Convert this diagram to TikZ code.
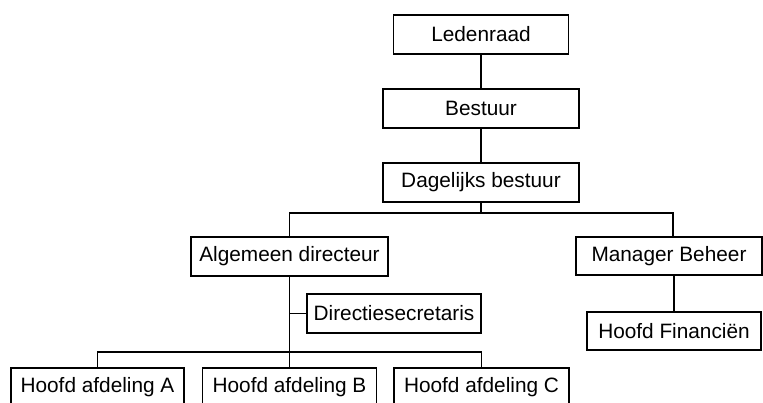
\documentclass[tikz,border=0pt]{standalone}
\usepackage{fontspec}
\setmainfont{Liberation Sans}
\begin{document}
\begin{tikzpicture}[x=1pt,y=-1pt,
  orgbox/.style={draw, line width=1.4pt, inner sep=0pt, minimum height=39pt,
    font=\fontsize{20.8}{24}\selectfont},
  conn/.style={line width=1.4pt}]
\useasboundingbox[fill=white] (0,0) rectangle (763,403);
\begin{scope}
\clip (0,0) rectangle (763,403);
\node[orgbox, minimum width=175pt] (L) at (481,34.5) {Ledenraad};
\node[orgbox, minimum width=196pt] (B) at (481,108.5) {Bestuur};
\node[orgbox, minimum width=196pt] (D) at (481,182.5) {Dagelijks bestuur};
\node[orgbox, minimum width=197pt] (AD) at (289.5,256.5) {Algemeen directeur};
\node[orgbox, minimum width=186pt, minimum height=38pt] (MB) at (669,256) {Manager Beheer};
\node[orgbox, minimum width=174pt] (DS) at (394,313.5) {Directiesecretaris};
\node[orgbox, minimum width=174pt, minimum height=38pt] (HF) at (674,331) {Hoofd Financiën};
\node[orgbox, minimum width=173pt] (HA) at (97.5,387.5) {Hoofd afdeling A};
\node[orgbox, minimum width=174pt] (HB) at (289.5,387.5) {Hoofd afdeling B};
\node[orgbox, minimum width=175pt] (HC) at (481.5,387.5) {Hoofd afdeling C};
\coordinate (j1) at (481,213);
\coordinate (j2) at (289.5,352);
\coordinate (mbtop) at (673,237);
\draw[conn] (L.south) -- (B.north);
\draw[conn] (B.south) -- (D.north);
\draw[conn] (D.south) -- (j1);
\draw[conn] (AD.north) |- (j1) -| (mbtop);
\draw[conn] (AD.south) -- (HB.north);
\draw[conn] (DS.west) -- (DS.west -| AD.south);
\draw[conn] (HA.north) |- (j2) -| (HC.north);
\draw[conn] (HF.north |- MB.south) -- (HF.north);
\end{scope}
\end{tikzpicture}
\end{document}
